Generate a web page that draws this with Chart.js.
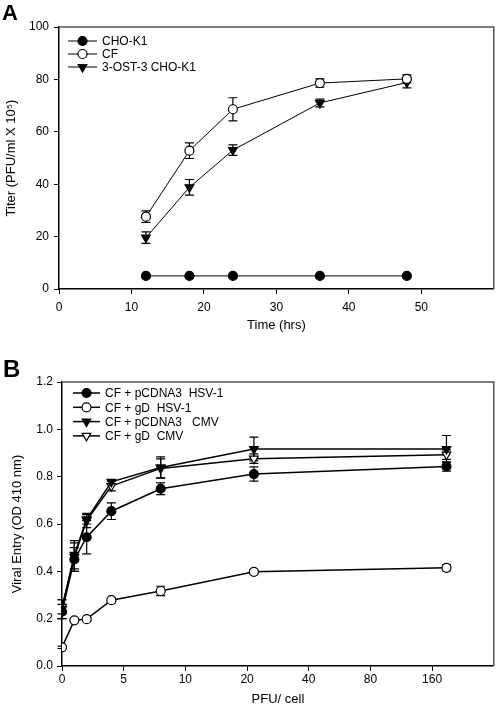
<!DOCTYPE html>
<html>
<head>
<meta charset="utf-8">
<script src="https://cdn.jsdelivr.net/npm/chart.js@4"></script>
<style>
  html, body { margin: 0; padding: 0; background: #fff; }
  #wrap { position: relative; width: 500px; height: 707px; }
  .panel { position: absolute; left: 0; width: 500px; }
  #boxA { top: 0; height: 340px; }
  #boxB { top: 340px; height: 367px; }
</style>
</head>
<body>
<div id="wrap">
  <div class="panel" id="boxA"><canvas id="chartA"></canvas></div>
  <div class="panel" id="boxB"><canvas id="chartB"></canvas></div>
</div>
<script>
// Panel A — titer over time
const TIME_HRS = [12, 18, 24, 36, 48];
const CHO_K1 = [5, 5, 5, 5, 5];
const CHO_K1_ERR = [0.3, 0.3, 0.3, 0.3, 0.3];
const CF = [27.6, 52.8, 68.6, 78.6, 80.2];
const CF_ERR = [2.2, 3, 4.4, 1.6, 1.5];
const OST3 = [19.6, 38.8, 53, 71, 78.8];
const OST3_ERR = [2.2, 3, 2, 1.5, 2];

// Panel B — viral entry vs PFU/cell (axis is linear to 10, then doubling)
const PFU_PER_CELL = [0, 1, 2, 4, 8, 21.6, 188];
const PCDNA3_HSV = [0.23, 0.45, 0.544, 0.654, 0.749, 0.811, 0.843];
const PCDNA3_HSV_ERR = [0.03, 0.05, 0.07, 0.035, 0.025, 0.03, 0.02];
const GD_HSV = [0.079, 0.193, 0.198, 0.278, 0.317, 0.398, 0.415];
const GD_HSV_ERR = [0.005, 0.005, 0.005, 0.01, 0.02, 0.008, 0.012];
const PCDNA3_CMV = [0.24, 0.47, 0.62, 0.778, 0.839, 0.917, 0.917];
const PCDNA3_CMV_ERR = [0.04, 0.06, 0.02, 0.01, 0.045, 0.05, 0.057];
const GD_CMV = [0.25, 0.46, 0.615, 0.76, 0.835, 0.876, 0.893];
const GD_CMV_ERR = [0.03, 0.06, 0.03, 0.02, 0.04, 0.02, 0.02];
const PFU_TICKS = [0, 5, 10, 20, 40, 80, 160];

const FONT = '"Liberation Sans", Arial, sans-serif';

// position on the broken PFU axis
function pfuPos(v) {
  return v <= 10 ? v / 5 : 2 + Math.log2(v / 10);
}

function pts(xs, ys) {
  return xs.map((x, i) => ({ x, y: ys[i] }));
}

// error bars, drawn under the markers
const errorBars = {
  id: "errorBars",
  beforeDatasetsDraw(chart) {
    const { ctx } = chart;
    const y = chart.scales.y;
    chart.data.datasets.forEach((ds, i) => {
      if (!ds.errors) return;
      const meta = chart.getDatasetMeta(i);
      ctx.save();
      ctx.strokeStyle = "#000";
      ctx.lineWidth = 1.2;
      meta.data.forEach((p, j) => {
        const e = ds.errors[j];
        const v = ds.data[j].y;
        const top = y.getPixelForValue(v + e);
        const bot = y.getPixelForValue(v - e);
        ctx.beginPath();
        ctx.moveTo(p.x, top); ctx.lineTo(p.x, bot);
        ctx.moveTo(p.x - 4.5, top); ctx.lineTo(p.x + 4.5, top);
        ctx.moveTo(p.x - 4.5, bot); ctx.lineTo(p.x + 4.5, bot);
        ctx.stroke();
      });
      ctx.restore();
    });
  },
};

// gray top/right frame, legend in the plot, panel letter
const decor = {
  id: "decor",
  afterDraw(chart, args, opts) {
    const { ctx, chartArea: a } = chart;
    ctx.save();
    ctx.strokeStyle = "#555";
    ctx.lineWidth = 1.5;
    ctx.beginPath();
    ctx.moveTo(a.left, a.top); ctx.lineTo(a.right, a.top); ctx.lineTo(a.right, a.bottom);
    ctx.stroke();

    ctx.font = "bold " + opts.letterSize + "px " + FONT;
    ctx.fillStyle = "#000";
    ctx.textBaseline = "alphabetic";
    ctx.fillText(opts.letter, opts.letterX, opts.letterY);

    ctx.font = "12px " + FONT;
    ctx.textBaseline = "middle";
    chart.data.datasets.forEach((ds, i) => {
      const y = opts.legendY + i * opts.legendGap;
      const x0 = opts.legendX, x1 = opts.legendX + opts.lineLen;
      ctx.strokeStyle = "#000";
      ctx.lineWidth = ds.borderWidth;
      ctx.beginPath(); ctx.moveTo(x0, y); ctx.lineTo(x1, y); ctx.stroke();
      ctx.fillStyle = ds.pointBackgroundColor;
      ctx.lineWidth = ds.pointBorderWidth;
      Chart.helpers.drawPoint(ctx, {
        pointStyle: ds.pointStyle, rotation: ds.pointRotation || 0,
        radius: ds.pointRadius, borderWidth: ds.pointBorderWidth,
      }, (x0 + x1) / 2, y);
      ctx.fillStyle = "#000";
      ctx.fillText(ds.label, x1 + 5, y + 1);
    });
    ctx.restore();
  },
};

function series(label, data, errors, style, filled, lw) {
  return {
    label, data, errors,
    showLine: true,
    borderColor: "#000",
    borderWidth: lw,
    pointStyle: style,
    pointRotation: style === "triangle" ? 180 : 0,
    pointRadius: style === "triangle" ? 5 : 4.5,
    pointBorderWidth: 1.2,
    pointBackgroundColor: filled ? "#000" : "#fff",
    pointBorderColor: "#000",
    backgroundColor: filled ? "#000" : "#fff",
  };
}

function axisBase(tickPad) {
  return {
    border: { display: true, color: "#000", width: 1.5 },
    grid: { display: true, drawOnChartArea: false, drawTicks: true, color: "#000", tickLength: 5 },
    ticks: { color: "#000", font: { family: FONT, size: 12 }, padding: tickPad },
  };
}

Chart.defaults.font.family = FONT;
Chart.defaults.color = "#000";

// ---- Panel A ----
new Chart(document.getElementById("chartA"), {
  type: "scatter",
  data: {
    datasets: [
      series("CHO-K1", pts(TIME_HRS, CHO_K1), CHO_K1_ERR, "circle", true, 1),
      series("CF", pts(TIME_HRS, CF), CF_ERR, "circle", false, 1),
      series("3-OST-3 CHO-K1", pts(TIME_HRS, OST3), OST3_ERR, "triangle", true, 1),
    ],
  },
  options: {
    responsive: true,
    maintainAspectRatio: false,
    animation: false,
    layout: { padding: { top: 27, right: 1, left: 0, bottom: 0 } },
    plugins: {
      legend: { display: false },
      tooltip: { enabled: false },
      decor: { letter: "A", letterSize: 22, letterX: 2, letterY: 20,
               legendX: 68, legendY: 41, legendGap: 13, lineLen: 29 },
    },
    scales: {
      x: {
        ...axisBase(6),
        min: 0, max: 60,
        ticks: { ...axisBase(6).ticks, stepSize: 10, maxRotation: 0 },
        afterBuildTicks: (s) => { s.ticks = s.ticks.filter((t) => t.value <= 50); },
        afterFit: (s) => { s.height = 51; },
        title: { display: true, text: "Time (hrs)", color: "#000",
                 font: { family: FONT, size: 13 }, padding: { top: 0, bottom: 7 } },
      },
      y: {
        ...axisBase(5),
        min: 0, max: 100,
        ticks: { ...axisBase(5).ticks, stepSize: 20 },
        afterFit: (s) => { s.width = 59; },
        title: { display: true, text: "Titer (PFU/ml X 10\u2075)", color: "#000",
                 font: { family: FONT, size: 13 }, padding: { top: 4, bottom: 0 } },
      },
    },
  },
  plugins: [errorBars, decor],
});

// ---- Panel B ----
const posB = PFU_PER_CELL.map(pfuPos);
new Chart(document.getElementById("chartB"), {
  type: "scatter",
  data: {
    datasets: [
      series("CF + pCDNA3  HSV-1", pts(posB, PCDNA3_HSV), PCDNA3_HSV_ERR, "circle", true, 1.5),
      series("CF + gD  HSV-1", pts(posB, GD_HSV), GD_HSV_ERR, "circle", false, 1.5),
      series("CF + pCDNA3   CMV", pts(posB, PCDNA3_CMV), PCDNA3_CMV_ERR, "triangle", true, 1.5),
      series("CF + gD  CMV", pts(posB, GD_CMV), GD_CMV_ERR, "triangle", false, 1.5),
    ],
  },
  options: {
    responsive: true,
    maintainAspectRatio: false,
    animation: false,
    layout: { padding: { top: 42, right: 3, left: 0, bottom: 0 } },
    plugins: {
      legend: { display: false },
      tooltip: { enabled: false },
      decor: { letter: "B", letterSize: 24, letterX: 3, letterY: 37,
               legendX: 73, legendY: 53, legendGap: 14.3, lineLen: 27 },
    },
    scales: {
      x: {
        ...axisBase(1),
        min: 0, max: 7,
        ticks: { ...axisBase(1).ticks, stepSize: 1, maxRotation: 0,
                 callback: (v) => (PFU_TICKS[v] !== undefined ? String(PFU_TICKS[v]) : "") },
        afterBuildTicks: (s) => { s.ticks = s.ticks.filter((t) => t.value < PFU_TICKS.length); },
        afterFit: (s) => { s.height = 41; },
        title: { display: true, text: "PFU/ cell", color: "#000",
                 font: { family: FONT, size: 13 }, padding: { top: 0, bottom: 0 } },
      },
      y: {
        ...axisBase(4),
        min: 0, max: 1.2,
        ticks: { ...axisBase(4).ticks, stepSize: 0.2, callback: (v) => v.toFixed(1) },
        afterFit: (s) => { s.width = 62; },
        title: { display: true, text: "Viral Entry (OD 410 nm)", color: "#000",
                 font: { family: FONT, size: 13 }, padding: { top: 10, bottom: 0 } },
      },
    },
  },
  plugins: [errorBars, decor],
});
</script>
</body>
</html>
